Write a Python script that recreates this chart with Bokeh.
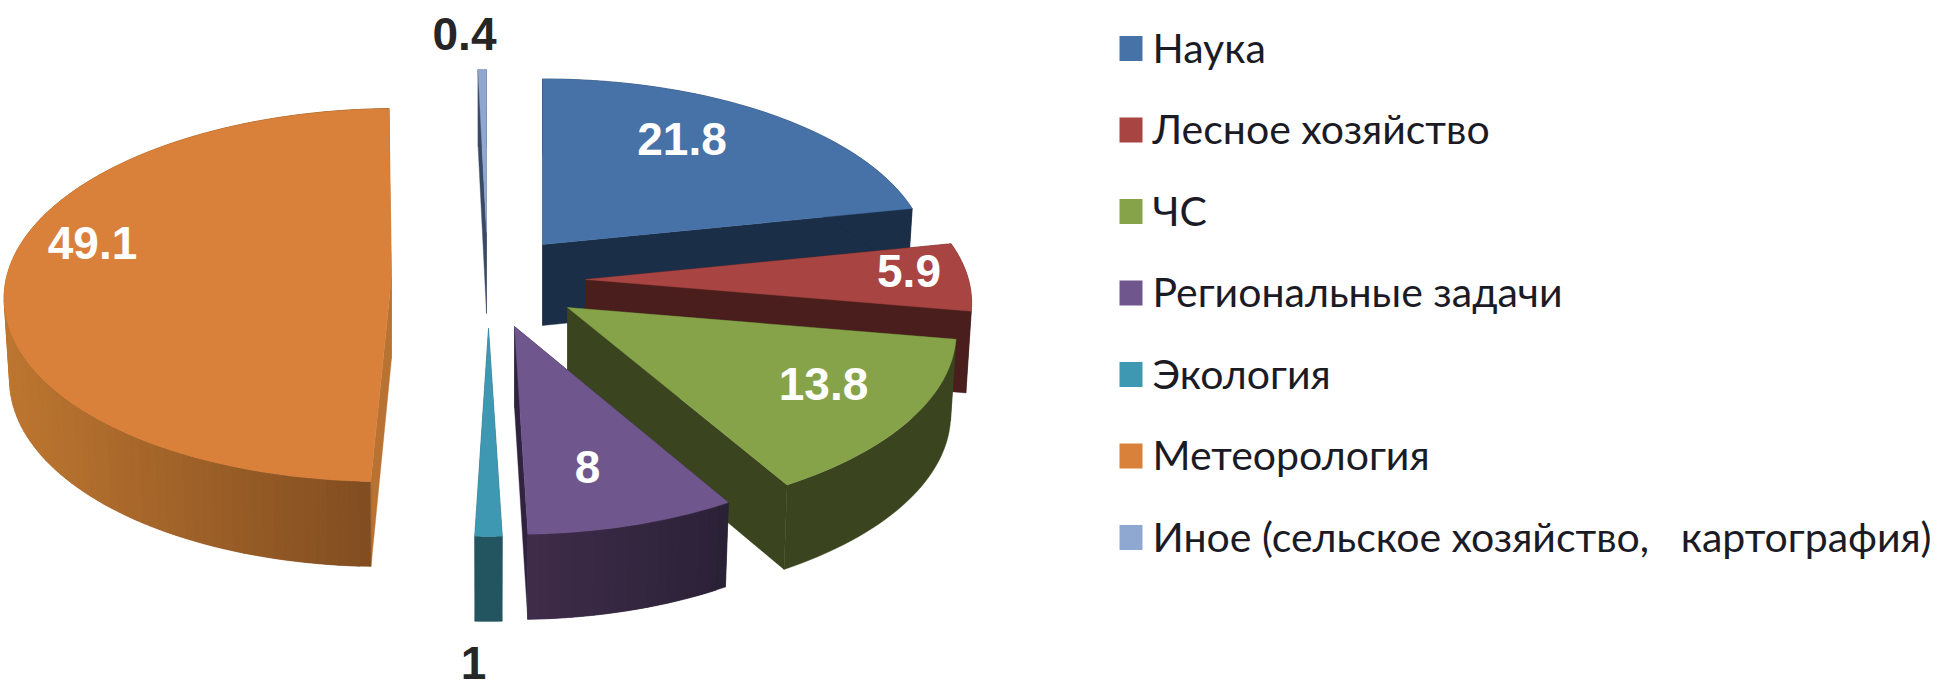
import numpy as np
from bokeh.plotting import figure
from bokeh.models import ColumnDataSource
from bokeh.core.properties import value
from bokeh.embed import file_html
from bokeh.resources import INLINE

# ---- data ----
categories = ["Наука", "Лесное хозяйство", "ЧС", "Региональные задачи", "Экология",
              "Метеорология", "Иное (сельское хозяйство,\u00a0\u00a0 картография)"]
values = [21.8, 5.9, 13.8, 8, 1, 49.1, 0.4]
value_labels = ["21.8", "5.9", "13.8", "8", "1", "49.1", "0.4"]

# ---- styles ----
top_colors = ["#4672A8", "#A84442", "#87A34A", "#6F568C", "#3F98B2", "#D9813A", "#8FA8D2"]
cut_colors = ["#1A2E47", "#4A1E1C", "#3A441E", "#2F2340", "#235561", "#B87232", "#3A4A66"]
wall_left  = ["#1A2E47", "#4A1E1C", "#3A441E", "#3F2C4A", "#235561", "#BD7630", "#3A4A66"]
wall_right = ["#1A2E47", "#4A1E1C", "#3A441E", "#2B2137", "#235561", "#7E4B20", "#3A4A66"]
label_colors = ["white", "white", "white", "white", "#262626", "white", "#262626"]

# ---- projection of the exploded slices (pixel layout) ----
apex_x = [542, 585, 567, 514, 488, 391, 486]
apex_y = [244, 279, 307, 326, 328, 277, 232]
rad_x  = [385, 383, 385, 378, 388, 385, 385]
rad_y  = [184, 184, 184, 184, 184, 186.5, 185]
persp  = [0.10, 0.13, 0.14, 0.13, 0.13, 0.094, 0.12]
skew   = [0, 0, 0, 0, 0, -0.037, 0]
DEPTH = 81
SHRINK = 0.986
label_dx = [139.5, 323.5, 256, 73, -15, -299, -22]
label_dy = [-106, -9, 76, 140, 334, -35, -199]

def top_pt(i, th):
    s = 1 - persp[i] * np.cos(th)
    dy = -rad_y[i] * s * np.cos(th)
    dx = rad_x[i] * s * np.sin(th) + skew[i] * dy
    return dx, dy

def bot_pt(i, th):
    dx, dy = top_pt(i, th)
    return dx * SHRINK, dy + DEPTH * (1 - 0.05 * np.cos(th))

def hexmix(a, b, t):
    ca = [int(a[k:k+2], 16) for k in (1, 3, 5)]
    cb = [int(b[k:k+2], 16) for k in (1, 3, 5)]
    return "#%02x%02x%02x" % tuple(int(round(x + (y - x) * t)) for x, y in zip(ca, cb))

frac = np.array(values) / sum(values)
ends = np.cumsum(frac) * 2 * np.pi
starts = ends - frac * 2 * np.pi

xs, ys, cols = [], [], []
def add(px, py, c):
    xs.append(list(px)); ys.append(list(py)); cols.append(c)

draw_order = [6, 0, 1, 2, 3, 4, 5]
for i in draw_order:
    a0, a1 = starts[i], ends[i]
    ax, ay = apex_x[i], apex_y[i]
    # cut walls
    for a in (a0, a1):
        tx, ty = top_pt(i, a)
        bx, by = bot_pt(i, a)
        add([ax, ax + tx, ax + bx, ax], [ay, ay + ty, ay + by, ay + DEPTH], cut_colors[i])
    n = max(8, int(frac[i] * 240))
    th = np.linspace(a0, a1, n + 1)
    tops = [top_pt(i, t) for t in th]
    bots = [bot_pt(i, t) for t in th]
    if wall_left[i] == wall_right[i]:
        # outer wall in one flat piece
        add([ax + q[0] for q in tops] + [ax + q[0] for q in bots[::-1]],
            [ay + q[1] for q in tops] + [ay + q[1] for q in bots[::-1]], wall_left[i])
    else:
        # outer wall as shaded strips, each overlapping the next so no seams show
        xvals = [q[0] for q in tops]
        xmin, xmax = min(xvals), max(xvals)
        for k in range(n):
            e = min(k + 2, n)
            t = ((tops[k][0] + tops[k + 1][0]) / 2 - xmin) / max(xmax - xmin, 1e-6)
            add([ax + q[0] for q in tops[k:e + 1]] + [ax + q[0] for q in bots[k:e + 1][::-1]],
                [ay + q[1] for q in tops[k:e + 1]] + [ay + q[1] for q in bots[k:e + 1][::-1]],
                hexmix(wall_left[i], wall_right[i], t))
    # top face
    add([ax] + [ax + q[0] for q in tops], [ay] + [ay + q[1] for q in tops], top_colors[i])

p = figure(width=1934, height=687, x_range=(0, 1934), y_range=(687, 0),
           output_backend="svg", toolbar_location=None, min_border=0,
           background_fill_color="white", border_fill_color="white")
p.axis.visible = False
p.grid.visible = False
p.outline_line_color = None

p.patches("xs", "ys", source=ColumnDataSource(dict(xs=xs, ys=ys, c=cols)),
          fill_color="c", line_color="c", line_width=0.4)

# value labels
p.text([apex_x[i] + label_dx[i] for i in range(7)],
       [apex_y[i] + label_dy[i] for i in range(7)],
       text=value_labels, text_color=label_colors,
       text_font=value("Liberation Sans"), text_font_style="bold",
       text_font_size="46px", text_align="center", text_baseline="middle")

# legend
LEG_Y0, LEG_STEP = 48, 81.5
leg_y = [LEG_Y0 + LEG_STEP * i for i in range(7)]
p.rect([1130.5] * 7, leg_y, width=23, height=25, fill_color=top_colors, line_color=None)
p.text([1152] * 7, [y - 1.5 for y in leg_y], text=categories, text_color="#1b1b26",
       text_font=value("Lato"), text_font_size="41px",
       text_align="left", text_baseline="middle")

open("out.html", "w").write(file_html(p, INLINE))
